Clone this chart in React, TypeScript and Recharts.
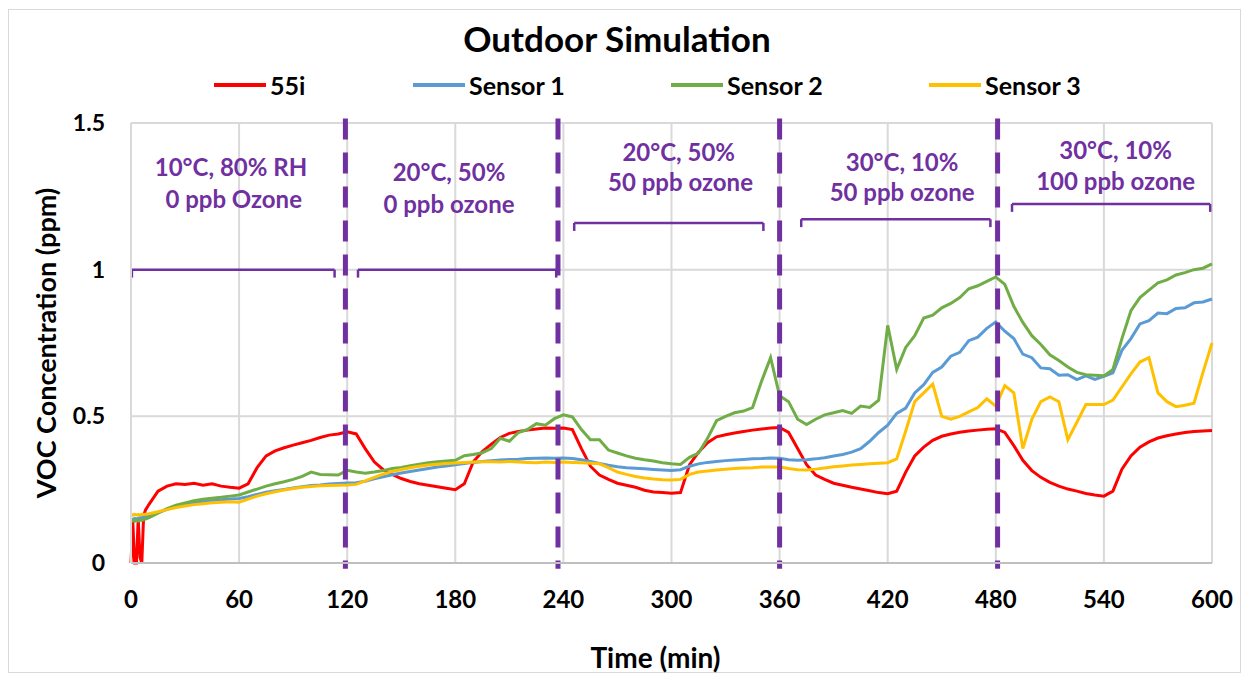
import { LineChart, Line, XAxis, YAxis, CartesianGrid, ReferenceLine, ReferenceDot } from 'recharts';

// sample times in minutes (dense at the start, then every 5 min)
const TIME = [
  0, 1, 2, 3, 4, 5, 6, 7, 8,
  10, 15, 20, 25, 30, 35, 40, 45, 50, 55,
  60, 65, 70, 75, 80, 85, 90, 95, 100, 105, 110, 115,
  120, 125, 130, 135, 140, 145, 150, 155, 160, 165, 170, 175,
  180, 185, 190, 195, 200, 205, 210, 215, 220, 225, 230, 235,
  240, 245, 250, 255, 260, 265, 270, 275, 280, 285, 290, 295,
  300, 305, 310, 315, 320, 325, 330, 335, 340, 345, 350, 355,
  360, 365, 370, 375, 380, 385, 390, 395, 400, 405, 410, 415,
  420, 425, 430, 435, 440, 445, 450, 455, 460, 465, 470, 475,
  480, 485, 490, 495, 500, 505, 510, 515, 520, 525, 530, 535,
  540, 545, 550, 555, 560, 565, 570, 575, 580, 585, 590, 595,
  600,
];

const ANALYZER_55I = [
  0, 0.14, 0, 0, 0.15, 0.02, 0, 0.16, 0.18,
  0.2, 0.245, 0.262, 0.27, 0.268, 0.272, 0.265, 0.27, 0.262, 0.258,
  0.255, 0.27, 0.325, 0.365, 0.382, 0.393, 0.402, 0.41, 0.418, 0.428, 0.436, 0.44,
  0.447, 0.44, 0.39, 0.345, 0.318, 0.302, 0.288, 0.278, 0.27, 0.265, 0.26, 0.255,
  0.25, 0.27, 0.345, 0.38, 0.405, 0.428, 0.442, 0.448, 0.453, 0.457, 0.46, 0.459,
  0.46, 0.455, 0.39, 0.33, 0.3, 0.285, 0.272, 0.265, 0.258, 0.248, 0.242, 0.24,
  0.238, 0.24, 0.335, 0.378, 0.41, 0.43, 0.437, 0.443, 0.448, 0.453, 0.457, 0.46,
  0.462, 0.445, 0.39, 0.335, 0.3, 0.285, 0.272, 0.265, 0.258, 0.252, 0.246, 0.24,
  0.236, 0.245, 0.31, 0.365, 0.395, 0.418, 0.432, 0.44, 0.446, 0.45, 0.453, 0.456,
  0.458, 0.445, 0.4, 0.35, 0.315, 0.292, 0.275, 0.262, 0.252, 0.245, 0.237, 0.232,
  0.228, 0.245, 0.32, 0.365, 0.395, 0.413, 0.426, 0.434, 0.44, 0.445, 0.448, 0.45,
  0.452,
];

const SENSOR_1 = [
  0.15, 0.148, 0.152, 0.15, 0.153, 0.155, 0.154, 0.157, 0.158,
  0.162, 0.172, 0.183, 0.192, 0.199, 0.204, 0.209, 0.212, 0.216, 0.218,
  0.22, 0.226, 0.234, 0.241, 0.246, 0.251, 0.256, 0.26, 0.264, 0.266, 0.269, 0.271,
  0.273, 0.274, 0.279, 0.287, 0.294, 0.301, 0.307, 0.312, 0.317, 0.322, 0.327, 0.331,
  0.335, 0.339, 0.343, 0.346, 0.349, 0.351, 0.353, 0.354, 0.356, 0.357, 0.358, 0.357,
  0.358, 0.356, 0.352, 0.346, 0.339, 0.333, 0.328, 0.325, 0.323, 0.321, 0.319, 0.317,
  0.315, 0.318, 0.33, 0.338, 0.343, 0.346, 0.349, 0.351, 0.353, 0.355, 0.356, 0.358,
  0.357, 0.352, 0.35, 0.352, 0.355, 0.359, 0.365, 0.37, 0.378, 0.39, 0.415, 0.445,
  0.47, 0.51, 0.528, 0.58, 0.608, 0.65, 0.668, 0.705, 0.718, 0.758, 0.77, 0.8,
  0.822, 0.79, 0.765, 0.712, 0.7, 0.665, 0.662, 0.64, 0.642, 0.625, 0.638, 0.626,
  0.636, 0.648, 0.725, 0.765, 0.815, 0.826, 0.852, 0.85, 0.868, 0.87, 0.887, 0.89,
  0.9,
];

const SENSOR_2 = [
  0.14, 0.145, 0.142, 0.146, 0.143, 0.147, 0.145, 0.148, 0.15,
  0.155, 0.17, 0.185, 0.197, 0.205, 0.212, 0.217, 0.221, 0.224, 0.228,
  0.232, 0.242, 0.252, 0.262, 0.27, 0.277, 0.285, 0.295, 0.31, 0.302, 0.301, 0.3,
  0.316, 0.31, 0.306, 0.31, 0.315, 0.322, 0.326, 0.332, 0.337, 0.342, 0.345, 0.348,
  0.35, 0.366, 0.37, 0.376, 0.39, 0.425, 0.415, 0.445, 0.455, 0.475, 0.47, 0.492,
  0.505, 0.498, 0.455, 0.42, 0.42, 0.385, 0.375, 0.365, 0.357, 0.352, 0.348, 0.342,
  0.338, 0.336, 0.36, 0.375, 0.425, 0.485, 0.5, 0.512, 0.518, 0.53, 0.62, 0.7,
  0.57, 0.55, 0.49, 0.472, 0.49, 0.505, 0.512, 0.52, 0.51, 0.535, 0.53, 0.555,
  0.81, 0.66, 0.735, 0.775, 0.835, 0.845, 0.87, 0.885, 0.905, 0.935, 0.945, 0.96,
  0.975, 0.95, 0.875, 0.82, 0.775, 0.745, 0.71, 0.69, 0.668, 0.65, 0.642, 0.64,
  0.638, 0.66, 0.765, 0.86, 0.905, 0.93, 0.955, 0.965, 0.982, 0.99, 1.0, 1.005,
  1.02,
];

const SENSOR_3 = [
  0.165, 0.163, 0.166, 0.164, 0.165, 0.163, 0.166, 0.165, 0.166,
  0.168, 0.175, 0.182, 0.189, 0.194, 0.199, 0.202, 0.205, 0.207, 0.209,
  0.207, 0.218, 0.228, 0.236, 0.243, 0.249, 0.254, 0.258, 0.261, 0.263, 0.264, 0.265,
  0.266, 0.268, 0.28, 0.292, 0.303, 0.312, 0.319, 0.325, 0.33, 0.334, 0.337, 0.339,
  0.341, 0.343, 0.344, 0.345, 0.345, 0.344, 0.346, 0.344, 0.343, 0.342, 0.344, 0.343,
  0.344, 0.343, 0.342, 0.34, 0.338, 0.325, 0.31, 0.302, 0.295, 0.29, 0.286, 0.284,
  0.283, 0.285, 0.302, 0.31, 0.314, 0.317, 0.32, 0.322, 0.324, 0.325, 0.327, 0.327,
  0.327, 0.322, 0.318, 0.317, 0.32, 0.324, 0.328, 0.331, 0.334, 0.336, 0.338, 0.34,
  0.342, 0.355, 0.45, 0.55, 0.58, 0.61, 0.5, 0.49, 0.5, 0.515, 0.53, 0.56,
  0.535, 0.605, 0.58, 0.39, 0.49, 0.55, 0.566, 0.55, 0.42, 0.48, 0.54, 0.54,
  0.54, 0.555, 0.6, 0.645, 0.685, 0.7, 0.58, 0.55, 0.533, 0.538, 0.545, 0.65,
  0.75,
];

const X_TICKS = [0, 60, 120, 180, 240, 300, 360, 420, 480, 540, 600];
const Y_TICKS = [0, 0.5, 1, 1.5];

// phase changes (min)
const PHASE_BREAKS = [119, 237, 360, 481];

// bracket spans over each phase: start, end, height (ppm)
const BRACKETS = [
  { from: 0.5, to: 113, level: 1.0 },
  { from: 126, to: 236, level: 1.0 },
  { from: 246, to: 351, level: 1.159 },
  { from: 372, to: 477, level: 1.172 },
  { from: 489, to: 599, level: 1.224 },
];

const PHASE_NOTES = [
  { t: 55.5, v: 1.347, text: '10°C, 80% RH' },
  { t: 57, v: 1.238, text: '0 ppb Ozone' },
  { t: 176.5, v: 1.333, text: '20°C, 50%' },
  { t: 176.5, v: 1.221, text: '0 ppb ozone' },
  { t: 304, v: 1.401, text: '20°C, 50%' },
  { t: 305, v: 1.296, text: '50 ppb ozone' },
  { t: 428, v: 1.367, text: '30°C, 10%' },
  { t: 428, v: 1.262, text: '50 ppb ozone' },
  { t: 546.5, v: 1.408, text: '30°C, 10%' },
  { t: 546.5, v: 1.302, text: '100 ppb ozone' },
];

const SERIES = [
  { key: 'a55i', name: '55i', color: '#FF0000' },
  { key: 's1', name: 'Sensor 1', color: '#5B9BD5' },
  { key: 's2', name: 'Sensor 2', color: '#70AD47' },
  { key: 's3', name: 'Sensor 3', color: '#FFC000' },
];

const rows = TIME.map((t, i) => ({
  t,
  a55i: ANALYZER_55I[i],
  s1: SENSOR_1[i],
  s2: SENSOR_2[i],
  s3: SENSOR_3[i],
}));

const FONT = 'Lato, "Open Sans", sans-serif';
const PURPLE = '#7030A0';
const TICK_LEN = 0.027;
const LEGEND_LEFT = [214, 413, 671, 929];

const App = () => {
  return (
    <div style={{ position: 'absolute', left: 0, top: 0, width: 1244, height: 677, background: '#fff', fontFamily: FONT }}>
      <div style={{ position: 'absolute', left: 8, top: 9, width: 1231, height: 662, border: '1px solid #d9d9d9' }} />
      <div style={{ position: 'absolute', left: 0, top: 17, width: 1234, textAlign: 'center', fontSize: 35, fontWeight: 700, color: '#000' }}>
        Outdoor Simulation
      </div>
      {SERIES.map((s, i) => (
        <div
          key={s.key}
          style={{ position: 'absolute', left: LEGEND_LEFT[i], top: 70, height: 30, display: 'flex', alignItems: 'center', whiteSpace: 'nowrap' }}
        >
          <div style={{ width: 52, height: 4, background: s.color }} />
          <span style={{ marginLeft: 4, fontSize: 25, fontWeight: 700, color: '#000' }}>{s.name}</span>
        </div>
      ))}
      <LineChart
        width={1244}
        height={677}
        data={rows}
        margin={{ top: 123, right: 32, bottom: 0, left: 0 }}
        style={{ position: 'absolute', left: 0, top: 0 }}
      >
        <CartesianGrid stroke="#d9d9d9" strokeWidth={2} />
        <XAxis
          dataKey="t"
          type="number"
          domain={[0, 600]}
          ticks={X_TICKS}
          interval={0}
          height={114}
          tickLine={false}
          tickSize={0}
          tickMargin={28}
          axisLine={{ stroke: '#bfbfbf', strokeWidth: 2 }}
          tick={{ fill: '#000', fontSize: 24, fontWeight: 700, fontFamily: FONT }}
          label={{ value: 'Time (min)', position: 'insideBottom', offset: 9, dx: -16, fill: '#000', fontSize: 28, fontWeight: 700, fontFamily: FONT }}
        />
        <YAxis
          type="number"
          domain={[0, 1.5]}
          ticks={Y_TICKS}
          width={131}
          tickLine={false}
          tickSize={0}
          tickMargin={26}
          axisLine={{ stroke: '#d9d9d9', strokeWidth: 2 }}
          tick={{ fill: '#000', fontSize: 23, fontWeight: 700, fontFamily: FONT }}
          label={{
            content: () => (
              <text
                x={45}
                y={343}
                transform="rotate(-90 45 343)"
                textAnchor="middle"
                dominantBaseline="central"
                fill="#000"
                fontSize={27}
                fontWeight={700}
                fontFamily={FONT}
              >
                VOC Concentration (ppm)
              </text>
            ),
          }}
        />
        {SERIES.map((s) => (
          <Line
            key={s.key}
            type="linear"
            dataKey={s.key}
            name={s.name}
            stroke={s.color}
            strokeWidth={3}
            dot={false}
            isAnimationActive={false}
          />
        ))}
        {BRACKETS.map((b, i) => (
          <ReferenceLine
            key={`bh-${i}`}
            segment={[{ x: b.from, y: b.level }, { x: b.to, y: b.level }]}
            stroke={PURPLE}
            strokeWidth={2.5}
          />
        ))}
        {BRACKETS.map((b, i) => (
          <ReferenceLine
            key={`bl-${i}`}
            segment={[{ x: b.from, y: b.level }, { x: b.from, y: b.level - TICK_LEN }]}
            stroke={PURPLE}
            strokeWidth={2.5}
          />
        ))}
        {BRACKETS.map((b, i) => (
          <ReferenceLine
            key={`br-${i}`}
            segment={[{ x: b.to, y: b.level }, { x: b.to, y: b.level - TICK_LEN }]}
            stroke={PURPLE}
            strokeWidth={2.5}
          />
        ))}
        {PHASE_BREAKS.map((x) => (
          <ReferenceLine
            key={`pb-${x}`}
            segment={[{ x, y: 1.515 }, { x, y: -0.02 }]}
            ifOverflow="visible"
            stroke={PURPLE}
            strokeWidth={5}
            strokeDasharray="21 13"
          />
        ))}
        {PHASE_NOTES.map((n, i) => (
          <ReferenceDot
            key={`note-${i}`}
            x={n.t}
            y={n.v}
            r={0}
            fill="none"
            stroke="none"
            label={{ value: n.text, position: 'center', fill: PURPLE, fontSize: 24, fontWeight: 700, fontFamily: FONT }}
          />
        ))}
      </LineChart>
    </div>
  );
};

export default App;
